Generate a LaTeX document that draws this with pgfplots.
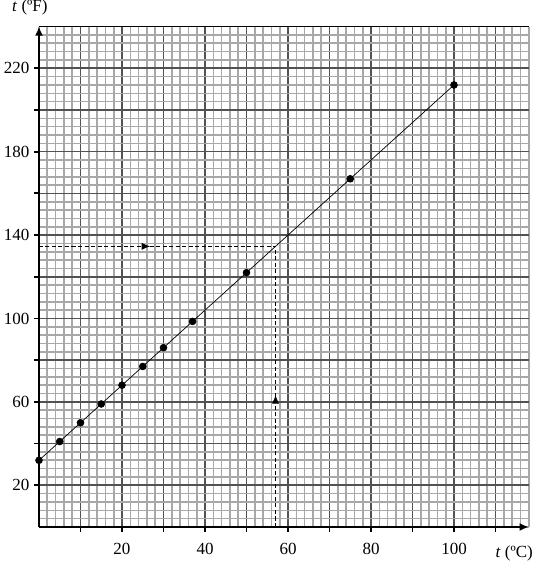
\documentclass[border=0pt]{standalone}
\usepackage{fontspec}
\setmainfont{Liberation Serif}
\usepackage{pgfplots}
\pgfplotsset{compat=1.18}
\usetikzlibrary{calc,decorations.markings,arrows.meta}

\begin{document}
\begin{tikzpicture}[font=\fontsize{17pt}{19pt}\selectfont]
\begin{axis}[
    scale only axis,
    width=489.7pt, height=500.4pt,
    xmin=0, xmax=118, ymin=0, ymax=240,
    axis lines=left,
    axis line style={line width=1.8pt, -{Latex[length=9pt,width=8pt]}},
    xtick={10,20,...,110},
    xticklabels={,20,,40,,60,,80,,100,},
    ytick={20,40,...,220},
    yticklabels={20,,60,,100,,140,,180,,220},
    minor xtick={0,2,...,118},
    minor ytick={0,4,...,240},
    minor tick length=0pt,
    major tick length=5pt,
    tick align=outside,
    tick style={line width=1.8pt, black},
    grid=both,
    minor grid style={line width=1.6pt, color=black!34},
    major grid style={line width=1.6pt, color=black!68},
    xticklabel style={yshift=-8pt},
    yticklabel style={xshift=-1pt},
    /pgf/number format/assume math mode=true,
    clip=false,
]
% conversion points
\addplot[black, line width=0.7pt, mark=*, mark size=3.4pt]
  coordinates {(0,32) (5,41) (10,50) (15,59) (20,68) (25,77) (30,86)
               (37,98.6) (50,122) (75,167) (100,212)};

% reading guide lines
\addplot[black, dash pattern=on 4pt off 2.5pt, line width=0.7pt, no markers,
  postaction={decorate, decoration={markings,
    mark=at position 0.47 with {\arrow[solid]{Latex[length=8.5pt,width=7pt]}}}}]
  coordinates {(0,134.6) (57,134.6)};
\addplot[black, dash pattern=on 4pt off 2.5pt, line width=0.7pt, no markers,
  postaction={decorate, decoration={markings,
    mark=at position 0.47 with {\arrow[solid]{Latex[length=8.5pt,width=7pt]}}}}]
  coordinates {(57,0) (57,134.6)};

% top border
\draw[line width=1.8pt] (axis cs:0,240) -- (axis cs:118,240);

\node at (axis cs:-2.2,249) {\textit{t} (ºF)};
\node at (axis cs:114.5,-12.5) {\textit{t} (ºC)};
\coordinate (o) at (axis cs:0,0);
\end{axis}
\pgfresetboundingbox
\path[use as bounding box] ($(o)+(-39pt,-38pt)$) rectangle ($(o)+(502pt,527pt)$);
\end{tikzpicture}
\end{document}
